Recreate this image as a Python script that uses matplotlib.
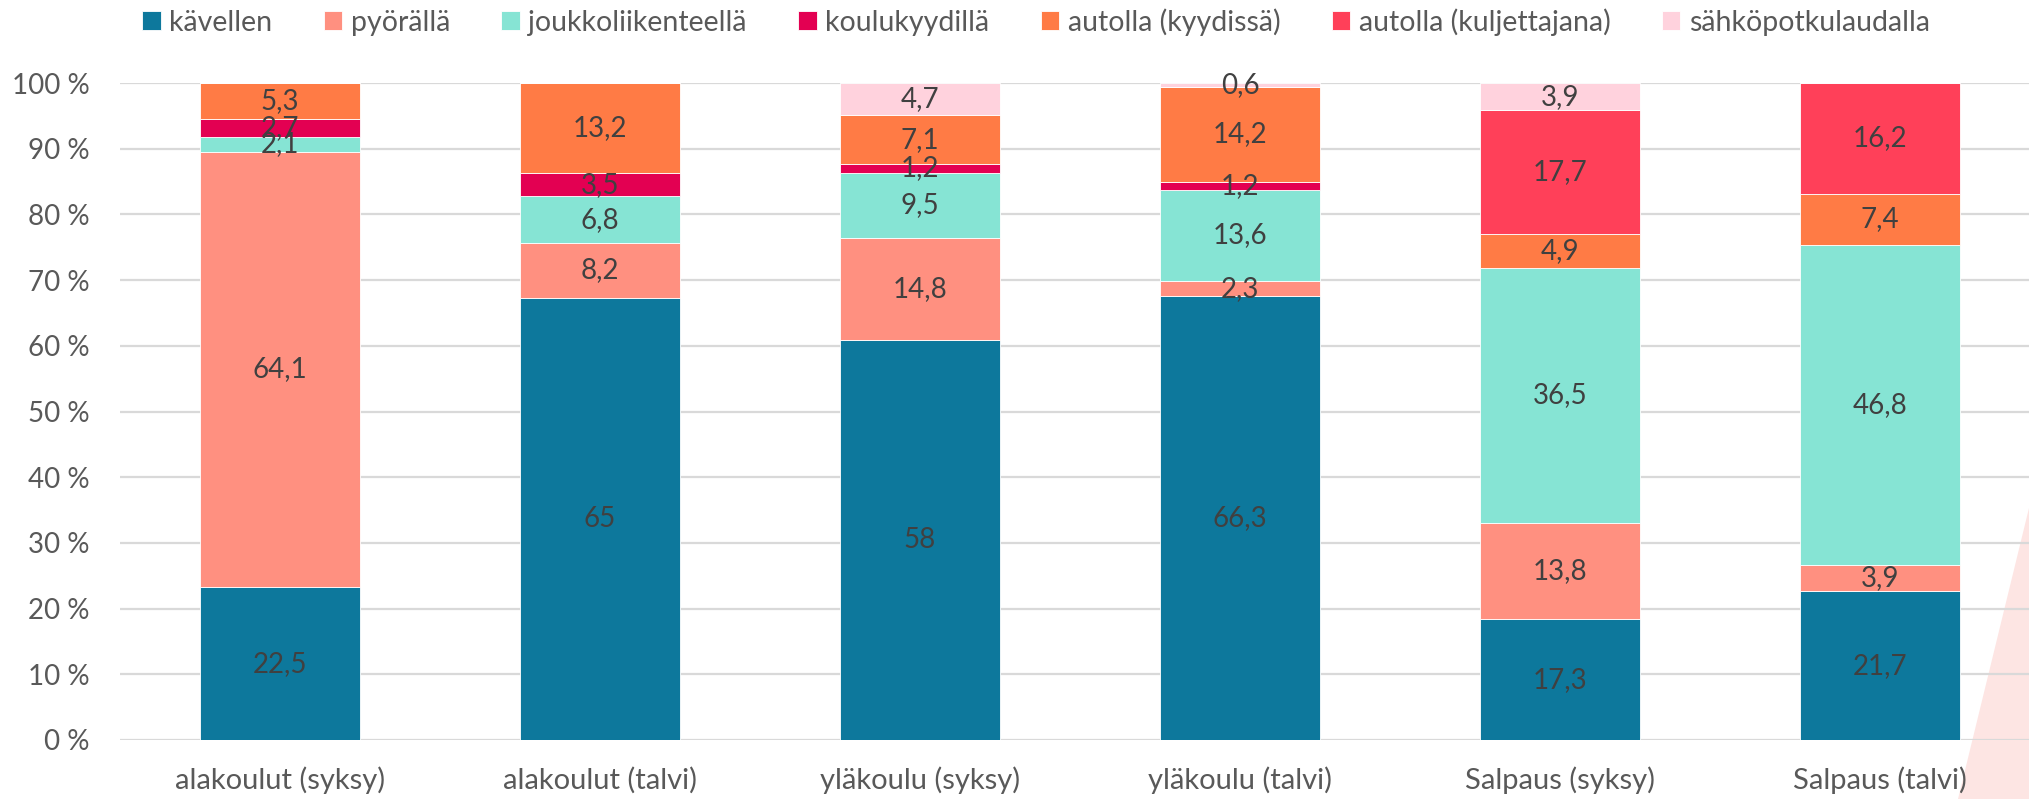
import numpy as np
import matplotlib
matplotlib.use("Agg")
import matplotlib.pyplot as plt
from matplotlib.patches import Polygon

categories = ["alakoulut (syksy)", "alakoulut (talvi)", "yläkoulu (syksy)",
              "yläkoulu (talvi)", "Salpaus (syksy)", "Salpaus (talvi)"]
series_names = ["kävellen", "pyörällä", "joukkoliikenteellä", "koulukyydillä",
                "autolla (kyydissä)", "autolla (kuljettajana)", "sähköpotkulaudalla"]
kavellen = [22.5, 65, 58, 66.3, 17.3, 21.7]
pyoralla = [64.1, 8.2, 14.8, 2.3, 13.8, 3.9]
joukkoliikenteella = [2.1, 6.8, 9.5, 13.6, 36.5, 46.8]
koulukyydilla = [2.7, 3.5, 1.2, 1.2, None, None]
autolla_kyydissa = [5.3, 13.2, 7.1, 14.2, 4.9, 7.4]
autolla_kuljettajana = [None, None, None, None, 17.7, 16.2]
sahkopotkulaudalla = [None, None, 4.7, 0.6, 3.9, None]
colors = ["#0D789C", "#FF9080", "#86E4D4", "#E30052", "#FF7B45", "#FF4059", "#FFD2DD"]

series = [kavellen, pyoralla, joukkoliikenteella, koulukyydilla,
          autolla_kyydissa, autolla_kuljettajana, sahkopotkulaudalla]
raw = np.array([[np.nan if v is None else v for v in s] for s in series], dtype=float)
vals = np.nan_to_num(raw)
totals = vals.sum(axis=0)
pct = vals / totals * 100

plt.rcParams['font.family'] = ['Lato', 'DejaVu Sans']
W, H = 2029, 799
fig = plt.figure(figsize=(W / 100, H / 100), dpi=100)

# decorative background shape bottom-right
fig.patches.append(Polygon([[1958 / W, 0], [1.0, 1 - 508 / H], [1.0, 0]], closed=True,
                           transform=fig.transFigure, facecolor="#FDE5E3", edgecolor="none", zorder=-5))

left, right = 120, 2029
bottom, top = 740, 83
ax = fig.add_axes([left / W, 1 - bottom / H, (right - left) / W, (bottom - top) / H])
ax.patch.set_alpha(0)

x = np.arange(len(categories))
base = np.zeros(len(categories))
handles = []
for i, name in enumerate(series_names):
    b = ax.bar(x, pct[i], 0.5, bottom=base, color=colors[i], edgecolor="white",
               linewidth=0.6, label=name, zorder=3)
    handles.append(b)
    for j in range(len(categories)):
        if not np.isnan(raw[i, j]):
            txt = f"{raw[i, j]:g}".replace(".", ",")
            ax.text(x[j], base[j] + pct[i, j] / 2, txt, ha="center", va="center",
                    fontsize=20, color="#404040", zorder=4)
    base = base + pct[i]

ax.set_ylim(0, 100)
ax.set_xlim(-0.5, -0.5 + (right - left) / 320)
ax.set_yticks(np.arange(0, 101, 10))
ax.set_yticklabels([f"{v} %" for v in range(0, 101, 10)])
ax.set_xticks(x)
ax.set_xticklabels(categories)
ax.tick_params(axis="y", length=0, pad=22, labelsize=20, labelcolor="#595959")
ax.tick_params(axis="x", length=0, pad=19, labelsize=21, labelcolor="#595959")
ax.grid(axis="y", color="#D9D9D9", linewidth=1.6, zorder=0)
ax.set_axisbelow(True)
for s in ax.spines.values():
    s.set_visible(False)

fs = 20.5
fs_px = fs * 100 / 72
leg_left, leg_right, leg_y = 142, 1930, 1 - 22 / H


def make_legend(cs, x0):
    return fig.legend(handles=handles, labels=series_names, loc="center left",
                      bbox_to_anchor=(x0, leg_y), ncol=7, frameon=False, fontsize=fs,
                      handlelength=0.65, handleheight=0.65, handletextpad=0.3,
                      columnspacing=cs, labelcolor="#595959", borderaxespad=0, borderpad=0)


cs = 1.6
leg = make_legend(cs, leg_left / W)
fig.canvas.draw()
bb = leg.get_window_extent(fig.canvas.get_renderer())
cs = cs + ((leg_right - leg_left) - bb.width) / 6 / fs_px
leg.remove()
leg = make_legend(cs, leg_left / W)
fig.canvas.draw()
bb = leg.get_window_extent(fig.canvas.get_renderer())
leg.remove()
leg = make_legend(cs, (leg_left - (bb.x0 - leg_left)) / W)

fig.savefig("out.png", dpi=100)
